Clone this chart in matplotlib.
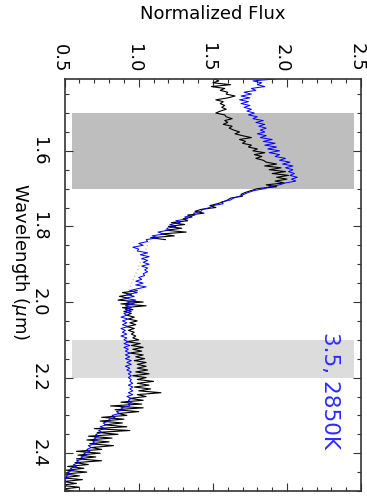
import matplotlib
matplotlib.use("Agg")
from matplotlib import pyplot as plt
from matplotlib.ticker import MultipleLocator
import matplotlib.transforms as mtransforms

# observed spectrum, H band part (black)
obs1_wave = [1.410, 1.415, 1.420, 1.425, 1.430, 1.435, 1.440, 1.445, 1.450, 1.455,
             1.460, 1.465, 1.470, 1.475, 1.480, 1.485, 1.490, 1.495, 1.500, 1.505,
             1.510, 1.515, 1.520, 1.525, 1.530, 1.535, 1.540, 1.545, 1.550, 1.555,
             1.560, 1.565, 1.570, 1.575, 1.580, 1.585, 1.590, 1.595, 1.600, 1.605,
             1.610, 1.615, 1.620, 1.625, 1.630, 1.635, 1.640, 1.645, 1.650, 1.655,
             1.660, 1.665, 1.670, 1.675, 1.680, 1.685, 1.690, 1.695, 1.700, 1.705,
             1.710, 1.715, 1.720, 1.725, 1.730, 1.735, 1.740, 1.745, 1.750, 1.755,
             1.760, 1.765, 1.770, 1.775, 1.780, 1.785, 1.790, 1.795, 1.800, 1.805,
             1.810, 1.815, 1.820, 1.825, 1.830, 1.835]
obs1_flux = [1.51, 1.54, 1.50, 1.62, 1.49, 1.58, 1.55, 1.60, 1.59, 1.65,
             1.60, 1.52, 1.57, 1.55, 1.58, 1.56, 1.59, 1.55, 1.52, 1.58,
             1.59, 1.63, 1.58, 1.60, 1.57, 1.63, 1.61, 1.64, 1.68, 1.65,
             1.70, 1.76, 1.68, 1.72, 1.70, 1.76, 1.74, 1.80, 1.77, 1.85,
             1.78, 1.83, 1.79, 1.84, 1.86, 1.93, 1.85, 1.96, 1.88, 1.99,
             1.90, 2.01, 1.93, 2.00, 1.92, 1.98, 1.86, 1.93, 1.80, 1.76,
             1.72, 1.69, 1.70, 1.62, 1.60, 1.57, 1.53, 1.48, 1.52, 1.42,
             1.38, 1.44, 1.33, 1.36, 1.30, 1.33, 1.22, 1.31, 1.20, 1.29,
             1.18, 1.32, 1.15, 1.24, 1.08, 1.18]

# telluric gap (light grey dotted)
gap_wave = [1.840, 1.972]
gap_flux = [1.07, 0.93]

# observed spectrum, K band part (black)
obs2_wave = [1.970, 1.975, 1.980, 1.985, 1.990, 1.995, 2.000, 2.005, 2.010, 2.015,
             2.020, 2.025, 2.030, 2.035, 2.040, 2.045, 2.050, 2.055, 2.060, 2.065,
             2.070, 2.075, 2.080, 2.085, 2.090, 2.095, 2.100, 2.105, 2.110, 2.115,
             2.120, 2.125, 2.130, 2.135, 2.140, 2.145, 2.150, 2.155, 2.160, 2.165,
             2.170, 2.175, 2.180, 2.185, 2.190, 2.195, 2.200, 2.205, 2.210, 2.215,
             2.220, 2.225, 2.230, 2.235, 2.240, 2.245, 2.250, 2.255, 2.260, 2.265,
             2.270, 2.275, 2.280, 2.285, 2.290, 2.295, 2.300, 2.305, 2.310, 2.315,
             2.320, 2.325, 2.330, 2.335, 2.340, 2.345, 2.350, 2.355, 2.360, 2.365,
             2.370, 2.375, 2.380, 2.385, 2.390, 2.395, 2.400, 2.405, 2.410, 2.415,
             2.420, 2.425, 2.430, 2.435, 2.440, 2.445, 2.450, 2.455, 2.460, 2.465,
             2.470, 2.475, 2.480, 2.485, 2.490, 2.495, 2.500]
obs2_flux = [0.99, 0.89, 0.95, 0.87, 0.93, 0.86, 1.03, 0.88, 1.05, 0.89,
             0.96, 0.90, 0.95, 0.92, 0.97, 0.93, 0.99, 0.94, 0.98, 0.92,
             0.97, 0.93, 0.97, 0.95, 0.98, 0.96, 1.00, 0.92, 1.01, 0.95,
             1.03, 0.96, 1.02, 0.94, 1.03, 0.98, 1.04, 0.97, 1.05, 0.99,
             1.05, 0.99, 1.06, 0.98, 1.07, 0.96, 1.05, 0.99, 1.10, 0.99,
             1.07, 0.97, 1.08, 1.00, 1.15, 0.99, 1.05, 0.94, 1.03, 0.88,
             1.02, 0.81, 1.03, 0.84, 1.00, 0.86, 0.92, 0.75, 0.90, 0.74,
             0.89, 0.77, 0.92, 0.70, 0.94, 0.72, 0.86, 0.66, 0.82, 0.65,
             0.80, 0.67, 0.83, 0.68, 0.75, 0.58, 0.74, 0.59, 0.71, 0.58,
             0.75, 0.57, 0.66, 0.52, 0.63, 0.51, 0.65, 0.50, 0.60, 0.48,
             0.62, 0.49, 0.58, 0.47, 0.60, 0.48, 0.56]

# model spectrum 3.5, 2850K (blue)
mod_wave = [1.410, 1.415, 1.420, 1.425, 1.430, 1.435, 1.440, 1.445, 1.450, 1.455,
            1.460, 1.465, 1.470, 1.475, 1.480, 1.485, 1.490, 1.495, 1.500, 1.505,
            1.510, 1.515, 1.520, 1.525, 1.530, 1.535, 1.540, 1.545, 1.550, 1.555,
            1.560, 1.565, 1.570, 1.575, 1.580, 1.585, 1.590, 1.595, 1.600, 1.605,
            1.610, 1.615, 1.620, 1.625, 1.630, 1.635, 1.640, 1.645, 1.650, 1.655,
            1.660, 1.665, 1.670, 1.675, 1.680, 1.685, 1.690, 1.695, 1.700, 1.705,
            1.710, 1.715, 1.720, 1.725, 1.730, 1.735, 1.740, 1.745, 1.750, 1.755,
            1.760, 1.765, 1.770, 1.775, 1.780, 1.785, 1.790, 1.795, 1.800, 1.805,
            1.810, 1.815, 1.820, 1.825, 1.830, 1.835, 1.840, 1.845, 1.850, 1.855,
            1.860, 1.865, 1.870, 1.875, 1.880, 1.885, 1.890, 1.895, 1.900, 1.905,
            1.910, 1.915, 1.920, 1.925, 1.930, 1.935, 1.940, 1.945, 1.950, 1.955,
            1.960, 1.965, 1.970, 1.975, 1.980, 1.985, 1.990, 1.995, 2.000, 2.005,
            2.010, 2.015, 2.020, 2.025, 2.030, 2.035, 2.040, 2.045, 2.050, 2.055,
            2.060, 2.065, 2.070, 2.075, 2.080, 2.085, 2.090, 2.095, 2.100, 2.105,
            2.110, 2.115, 2.120, 2.125, 2.130, 2.135, 2.140, 2.145, 2.150, 2.155,
            2.160, 2.165, 2.170, 2.175, 2.180, 2.185, 2.190, 2.195, 2.200, 2.205,
            2.210, 2.215, 2.220, 2.225, 2.230, 2.235, 2.240, 2.245, 2.250, 2.255,
            2.260, 2.265, 2.270, 2.275, 2.280, 2.285, 2.290, 2.295, 2.300, 2.305,
            2.310, 2.315, 2.320, 2.325, 2.330, 2.335, 2.340, 2.345, 2.350, 2.355,
            2.360, 2.365, 2.370, 2.375, 2.380, 2.385, 2.390, 2.395, 2.400, 2.405,
            2.410, 2.415, 2.420, 2.425, 2.430, 2.435, 2.440, 2.445, 2.450, 2.455,
            2.460, 2.465, 2.470, 2.475, 2.480, 2.485, 2.490, 2.495, 2.500]
mod_flux = [1.92, 1.77, 1.83, 1.80, 1.85, 1.76, 1.79, 1.71, 1.76, 1.69,
            1.75, 1.68, 1.74, 1.69, 1.75, 1.71, 1.76, 1.73, 1.78, 1.74,
            1.80, 1.77, 1.84, 1.79, 1.85, 1.81, 1.86, 1.82, 1.85, 1.80,
            1.86, 1.82, 1.90, 1.84, 1.92, 1.85, 1.93, 1.87, 1.95, 1.88,
            1.95, 1.92, 1.99, 1.95, 2.02, 1.97, 2.04, 1.99, 2.04, 2.01,
            2.05, 2.02, 2.07, 2.03, 2.06, 1.99, 1.95, 1.88, 1.85, 1.78,
            1.74, 1.71, 1.68, 1.64, 1.62, 1.56, 1.57, 1.50, 1.48, 1.43,
            1.42, 1.37, 1.38, 1.31, 1.33, 1.25, 1.28, 1.21, 1.25, 1.19,
            1.20, 1.13, 1.17, 1.09, 1.13, 1.05, 1.06, 1.00, 1.03, 0.96,
            1.00, 0.99, 1.06, 1.01, 1.07, 1.02, 1.06, 1.03, 1.07, 1.02,
            1.06, 1.04, 1.06, 1.03, 1.04, 1.00, 1.02, 0.98, 1.03, 0.98,
            1.05, 0.99, 0.94, 0.99, 0.92, 0.97, 0.91, 0.98, 0.92, 0.97,
            0.91, 0.95, 0.91, 0.95, 0.90, 0.92, 0.88, 0.93, 0.89, 0.92,
            0.89, 0.93, 0.88, 0.91, 0.89, 0.92, 0.88, 0.92, 0.90, 0.93,
            0.90, 0.94, 0.90, 0.93, 0.91, 0.94, 0.91, 0.94, 0.91, 0.95,
            0.92, 0.95, 0.91, 0.94, 0.92, 0.95, 0.93, 0.95, 0.93, 0.95,
            0.94, 0.96, 0.93, 0.96, 0.94, 0.96, 0.93, 0.96, 0.92, 0.95,
            0.93, 0.95, 0.93, 0.94, 0.88, 0.90, 0.85, 0.87, 0.82, 0.84,
            0.80, 0.80, 0.76, 0.78, 0.74, 0.77, 0.73, 0.75, 0.71, 0.73,
            0.70, 0.72, 0.69, 0.71, 0.66, 0.68, 0.65, 0.67, 0.63, 0.65,
            0.61, 0.63, 0.58, 0.60, 0.56, 0.58, 0.54, 0.56, 0.52, 0.54,
            0.51, 0.52, 0.50, 0.51, 0.49, 0.50, 0.48, 0.49, 0.47]

# shaded wavelength windows
band_dark = (1.5, 1.7)
band_light = (2.1, 2.2)
band_flux = (0.55, 2.45)

model_label = "3.5, 2850K"

fig = plt.figure(figsize=(3.67, 5.0), dpi=100)
ax = fig.add_axes([0.176, 0.018, 0.808, 0.824])

# figure is drawn turned on its side: flux across, wavelength down
ax.fill_between(band_flux, band_dark[0], band_dark[1], color="#bebebe", lw=0)
ax.fill_between(band_flux, band_light[0], band_light[1], color="#dcdcdc", lw=0)

ax.plot(gap_flux, gap_wave, color="#c8c8c8", lw=1.0, ls=":")
ax.plot(obs1_flux, obs1_wave, color="black", lw=0.8)
ax.plot(obs2_flux, obs2_wave, color="black", lw=0.8)
ax.plot(mod_flux, mod_wave, color="blue", lw=0.7)

ax.text(2.29, 2.08, model_label, color="#2b2bff", fontsize=15.5,
        rotation=-90, ha="center", va="top")

ax.set_xlim(0.5, 2.5)
ax.set_ylim(2.5, 1.41)

ax.xaxis.set_major_locator(MultipleLocator(0.5))
ax.xaxis.set_minor_locator(MultipleLocator(0.1))
ax.yaxis.set_major_locator(MultipleLocator(0.2))
ax.yaxis.set_minor_locator(MultipleLocator(0.05))
ax.xaxis.set_major_formatter(plt.FormatStrFormatter("%.1f"))
ax.yaxis.set_major_formatter(plt.FormatStrFormatter("%.1f"))

ax.tick_params(which="both", direction="in", top=True, bottom=True,
               left=True, right=True, labeltop=True, labelbottom=False,
               color="#333333")
ax.tick_params(which="major", length=6, width=0.8)
ax.tick_params(which="minor", length=3, width=0.8)
ax.tick_params(axis="x", labelsize=13, pad=5, labelrotation=-90)
ax.tick_params(axis="y", labelsize=13, pad=12, labelrotation=-90)
for lab in ax.get_yticklabels():
    lab.set_va("center")

for sp in ax.spines.values():
    sp.set_color("#333333")
    sp.set_linewidth(1.2)

ax.xaxis.set_label_position("top")
ax.set_xlabel("Normalized Flux", fontsize=13)
ax.xaxis.set_label_coords(0.5, 1.158)
ax.xaxis.label.set_va("center")

ax.set_ylabel(r"Wavelength ($\mu$m)", fontsize=13, rotation=-90)
ax.yaxis.set_label_coords(-0.15, 0.556)
ax.yaxis.label.set_va("center")
ax.yaxis.label.set_ha("center")

# top tick labels sit a little left of their ticks, as in the original
shift = mtransforms.ScaledTranslation(-5 / 100, 0, fig.dpi_scale_trans)
for t in ax.xaxis.get_major_ticks():
    t.label2.set_transform(t.label2.get_transform() + shift)

fig.savefig("out.png", dpi=100)
